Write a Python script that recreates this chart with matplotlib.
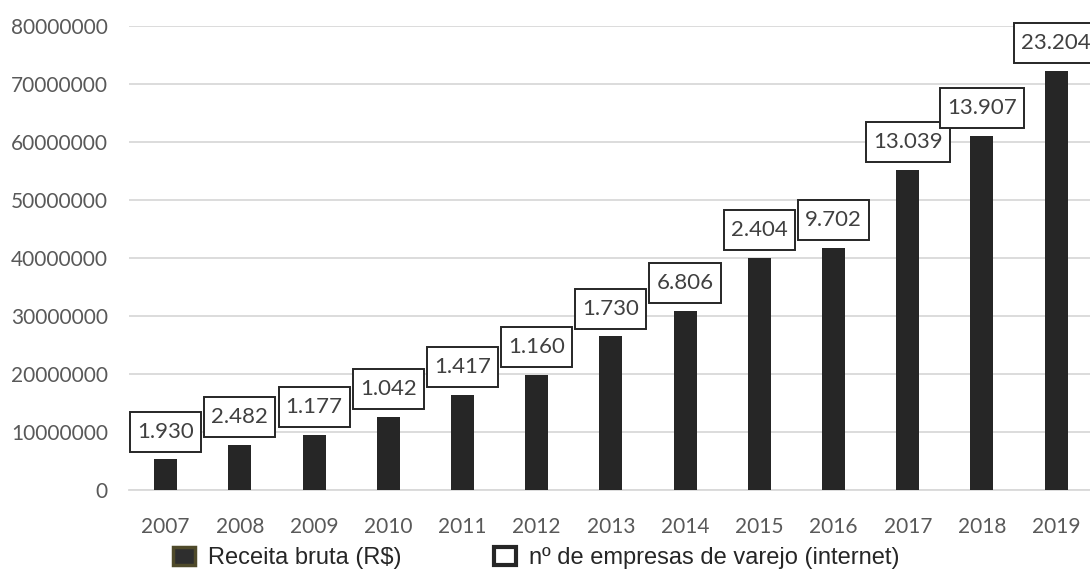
import matplotlib.pyplot as plt
import numpy as np
from matplotlib.patches import Patch
from matplotlib.path import Path

anos = ["2007", "2008", "2009", "2010", "2011", "2012", "2013",
        "2014", "2015", "2016", "2017", "2018", "2019"]
receita = [5300000, 7800000, 9500000, 12600000, 16400000, 19800000, 26500000,
           30900000, 40000000, 41700000, 55200000, 61000000, 72200000]
empresas = ["1.930", "2.482", "1.177", "1.042", "1.417", "1.160", "1.730",
            "6.806", "2.404", "9.702", "13.039", "13.907", "23.204"]

plt.rcParams['font.family'] = ['Lato', 'DejaVu Sans']


def caixa(x0, y0, w, h, mutation_size):
    # caixa retangular com mais folga na vertical
    px = 0.32 * mutation_size
    py = 0.45 * mutation_size
    x0, y0, x1, y1 = x0 - px, y0 - py, x0 + w + px, y0 + h + py
    return Path([(x0, y0), (x1, y0), (x1, y1), (x0, y1), (x0, y0)], closed=True)


fig = plt.figure(figsize=(10.9, 5.76), dpi=100)
ax = fig.add_axes([0.118, 0.149, 0.885, 0.806])

x = np.arange(len(anos))
ax.bar(x, receita, width=0.31, color='#262626', zorder=3)

for xi, val, lab in zip(x, receita, empresas):
    ax.annotate(lab, (xi, val), xytext=(0, 20), textcoords='offset points',
                ha='center', va='center', fontsize=16, color='#404040', zorder=4,
                bbox=dict(boxstyle=caixa, fc='white', ec='#262626', lw=1.4),
                annotation_clip=False)

ax.set_xlim(-0.5, 12.5)
ax.set_ylim(0, 80000000)
ax.set_yticks(np.arange(0, 80000001, 10000000))
ax.set_yticklabels([str(v) for v in range(0, 80000001, 10000000)])
ax.set_xticks(x)
ax.set_xticklabels(anos)
ax.tick_params(axis='both', length=0, labelsize=15, colors='#595959')
ax.tick_params(axis='x', pad=19)
ax.tick_params(axis='y', pad=15)
ax.grid(axis='y', color='#d9d9d9', lw=1.3, zorder=0)
for s in ['top', 'right', 'left']:
    ax.spines[s].set_visible(False)
ax.spines['bottom'].set_color('#d9d9d9')
ax.spines['bottom'].set_linewidth(1.3)

handles = [Patch(facecolor='#2e2e2e', edgecolor='#4f4a2a', lw=2.5, label='Receita bruta (R$)'),
           Patch(facecolor='white', edgecolor='#262626', lw=3, label='nº de empresas de varejo (internet)')]
fig.legend(handles=handles, loc='center', bbox_to_anchor=(0.492, 0.031), ncol=2,
           frameon=False, handlelength=0.95, handleheight=0.75, handletextpad=0.55,
           columnspacing=3.9, prop={'family': 'Liberation Sans', 'size': 17},
           labelcolor='#262626')

fig.savefig('out.png', dpi=100)
